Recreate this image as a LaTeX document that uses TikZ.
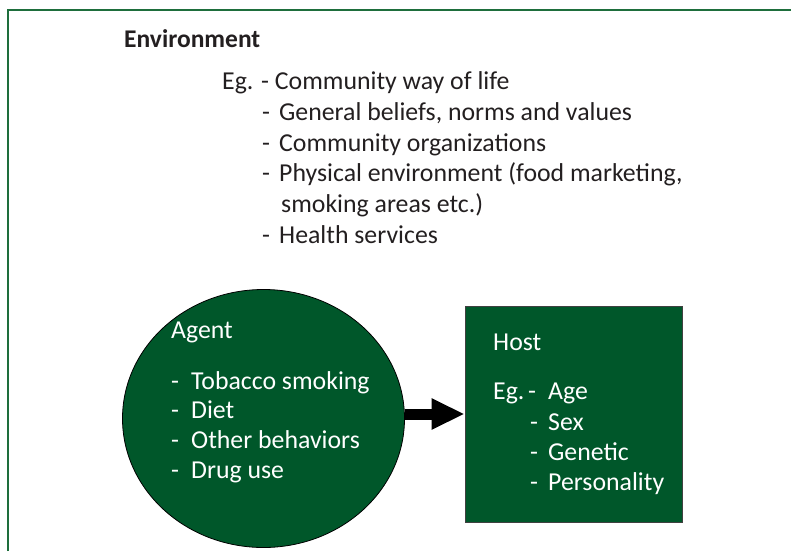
\documentclass[tikz,border=0pt]{standalone}
\usepackage{fontspec}
\setmainfont{Carlito}
\usepackage{xcolor}
\usepackage{tikz}
\usetikzlibrary{positioning}
\usetikzlibrary{shapes.geometric}
\usetikzlibrary{arrows.meta}
\definecolor{darkgreen}{RGB}{0,87,42}
\definecolor{framegreen}{RGB}{30,110,60}
\definecolor{textgray}{RGB}{35,31,32}
\tikzset{edge/.style = {-{Triangle[length=33pt,width=29pt]}, line width=11pt}}
\newcommand{\itm}[2][17pt]{\makebox[#1][l]{-}#2}

\begin{document}
\begin{tikzpicture}[x=1pt,y=-1pt,
    txt/.style={anchor=base west,inner sep=0pt,font=\fontsize{25.8}{30.5}\selectfont},
    main node/.style={draw=black,fill=darkgreen,line width=0.8pt}]
    \useasboundingbox (0,0) rectangle (791,551);
    \draw[framegreen,line width=2pt] (7.5,551) -- (7.5,10.5) -- (791,10.5);

    % environment
    \node[txt,textgray,font=\fontsize{25.5}{30.5}\selectfont\bfseries] (env) at (124,48) {Environment};
    \node[txt,textgray] (e0) at (222,89) {Eg. - Community way of life};
    \node[txt,textgray] (e1) at (262,120) {\itm{General beliefs, norms and values}};
    \node[txt,textgray] (e2) at (262,151) {\itm{Community organizations}};
    \node[txt,textgray] (e3) at (262,181) {\itm{Physical environment (food marketing,}};
    \node[txt,textgray] (e4) at (281,212) {smoking areas etc.)};
    \node[txt,textgray] (e5) at (262,243) {\itm{Health services}};

    % agent and host
    \node[main node,ellipse,minimum width=282pt,minimum height=258pt] (agent) at (263.5,418.5) {};
    \node[main node,rectangle,draw=black!75,minimum width=217pt,minimum height=216pt] (host) at (573.5,414) {};

    \node[txt,white] (a0) at (171,338) {Agent};
    \node[txt,white] (a1) at (171,389) {\itm[20pt]{Tobacco smoking}};
    \node[txt,white] (a2) at (171,418) {\itm[20pt]{Diet}};
    \node[txt,white] (a3) at (171,448) {\itm[20pt]{Other behaviors}};
    \node[txt,white] (a4) at (171,478) {\itm[20pt]{Drug use}};

    \node[txt,white] (h0) at (493,350) {Host};
    \node[txt,white] (h1) at (493,399) {\makebox[35pt][l]{Eg.}\itm[20pt]{Age}};
    \node[txt,white] (h2) at (530,430) {\itm[18pt]{Sex}};
    \node[txt,white] (h3) at (530,460) {\itm[18pt]{Genetic}};
    \node[txt,white] (h4) at (530,490) {\itm[18pt]{Personality}};

    \draw[edge] (agent.east |- host.west) -- (host.west);

\end{tikzpicture}
\end{document}
